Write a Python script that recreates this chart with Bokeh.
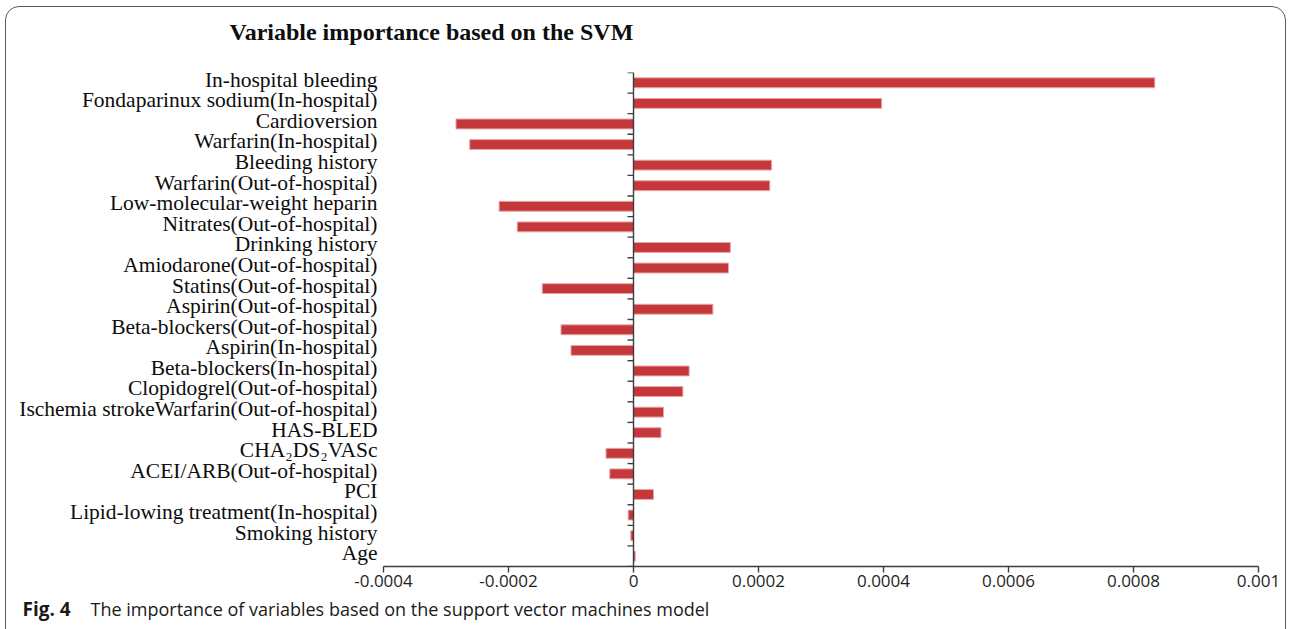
import math

from bokeh.plotting import figure
from bokeh.models import FixedTicker, Label, Range1d, Span, InlineStyleSheet
from bokeh.embed import file_html
from bokeh.resources import INLINE

# Variable importance from the SVM model, listed top to bottom
variables = [
    "In-hospital bleeding",
    "Fondaparinux sodium(In-hospital)",
    "Cardioversion",
    "Warfarin(In-hospital)",
    "Bleeding history",
    "Warfarin(Out-of-hospital)",
    "Low-molecular-weight heparin",
    "Nitrates(Out-of-hospital)",
    "Drinking history",
    "Amiodarone(Out-of-hospital)",
    "Statins(Out-of-hospital)",
    "Aspirin(Out-of-hospital)",
    "Beta-blockers(Out-of-hospital)",
    "Aspirin(In-hospital)",
    "Beta-blockers(In-hospital)",
    "Clopidogrel(Out-of-hospital)",
    "Ischemia strokeWarfarin(Out-of-hospital)",
    "HAS-BLED",
    "CHA\u2082DS\u2082VASc",
    "ACEI/ARB(Out-of-hospital)",
    "PCI",
    "Lipid-lowing treatment(In-hospital)",
    "Smoking history",
    "Age",
]
importance = [
    0.000834, 0.000397, -0.000284, -0.000262, 0.000221, 0.000218,
    -0.000215, -0.000186, 0.000155, 0.000152, -0.000146, 0.000127,
    -0.000116, -0.000100, 0.000089, 0.000079, 0.000048, 0.000044,
    -0.000044, -0.000038, 0.000032, -0.0000085, -0.0000043, 0.0000027,
]
x_ticks = [-0.0004, -0.0002, 0, 0.0002, 0.0004, 0.0006, 0.0008, 0.001]
x_tick_labels = ["-0.0004", "-0.0002", "0", "0.0002", "0.0004", "0.0006", "0.0008", "0.001"]

title_text = "Variable importance based on the SVM"
caption_tag = "Fig. 4"
caption_text = "The importance of variables based on the support vector machines model"

n = len(variables)
rows = [n - 1 - i for i in range(n)]          # first variable on top
boundaries = [k - 0.5 for k in range(n + 1)]  # separators between rows
LABEL_LIFT = 0.15                             # names sit a little above their bars
label_pos = [r + LABEL_LIFT for r in rows]

W, H = 1290, 629
LEFT, RIGHT, TOP, BOTTOM = 383, 32, 72, 63
AXIS_COLOR = "#3c3c3c"

p = figure(
    width=W, height=H,
    x_range=Range1d(x_ticks[0], x_ticks[-1]),
    y_range=Range1d(-0.5, n - 0.5),
    output_backend="svg", toolbar_location=None,
    min_border_left=LEFT, min_border_right=RIGHT,
    min_border_top=TOP, min_border_bottom=BOTTOM,
)
p.outline_line_color = None
p.grid.visible = False
p.background_fill_color = "white"
p.border_fill_color = "white"

# bars
p.hbar(y=rows, left=0, right=importance, height=0.48,
       fill_color="#C4373A", line_color="#E9A5A5", line_width=1)

# zero line with short separators between rows
p.add_layout(Span(location=0, dimension="height",
                  line_color=AXIS_COLOR, line_width=1.4))
p.ray(x=[0] * len(boundaries), y=boundaries, length=6, length_units="screen",
      angle=math.pi, line_color=AXIS_COLOR, line_width=1.4)

# x axis
xa = p.xaxis[0]
xa.ticker = FixedTicker(ticks=x_ticks)
xa.major_label_overrides = dict(zip(x_ticks, x_tick_labels))
xa.axis_line_color = AXIS_COLOR
xa.axis_line_width = 1.4
xa.major_tick_line_color = AXIS_COLOR
xa.major_tick_line_width = 1.4
xa.major_tick_in = 0
xa.major_tick_out = 6
xa.minor_tick_line_color = None
xa.major_label_standoff = 2
xa.major_label_text_font = "Open Sans"
xa.major_label_text_font_size = "17px"
xa.major_label_text_color = "#1e1e1e"

# variable names on the left
ya = p.yaxis[0]
ya.ticker = FixedTicker(ticks=label_pos)
ya.major_label_overrides = dict(zip(label_pos, variables))
ya.axis_line_color = None
ya.major_tick_line_color = None
ya.major_tick_in = 0
ya.major_tick_out = 0
ya.minor_tick_line_color = None
ya.major_label_standoff = 6
ya.major_label_text_font = "Liberation Serif"
ya.major_label_text_font_size = "21.5px"
ya.major_label_text_color = "#0d0d0d"

# heading and caption, placed in canvas pixels
p.add_layout(Label(
    x=229, y=31, x_units="canvas", y_units="canvas",
    text=title_text, text_font="Liberation Serif", text_font_size="24px",
    text_font_style="bold", text_color="#0d0d0d",
    text_baseline="alphabetic", text_align="left",
), "above")
p.add_layout(Label(
    x=22, y=608, x_units="canvas", y_units="canvas",
    text=caption_tag, text_font="Open Sans", text_font_size="19px",
    text_font_style="bold", text_color="#1a1a1a",
    text_baseline="alphabetic", text_align="left",
), "above")
p.add_layout(Label(
    x=90, y=608, x_units="canvas", y_units="canvas",
    text=caption_text, text_font="Open Sans", text_font_size="18px",
    text_color="#1a1a1a", text_baseline="alphabetic", text_align="left",
), "below")

# rounded panel outline around the whole figure
p.stylesheets = [InlineStyleSheet(css="""
:host { position: relative; }
:host::after {
  content: "";
  position: absolute;
  left: 5px; top: 6px; right: 4px; bottom: -14px;
  border: 1.5px solid #5a5a5a;
  border-radius: 14px;
  pointer-events: none;
}
""")]

open("out.html", "w").write(file_html(p, INLINE))
